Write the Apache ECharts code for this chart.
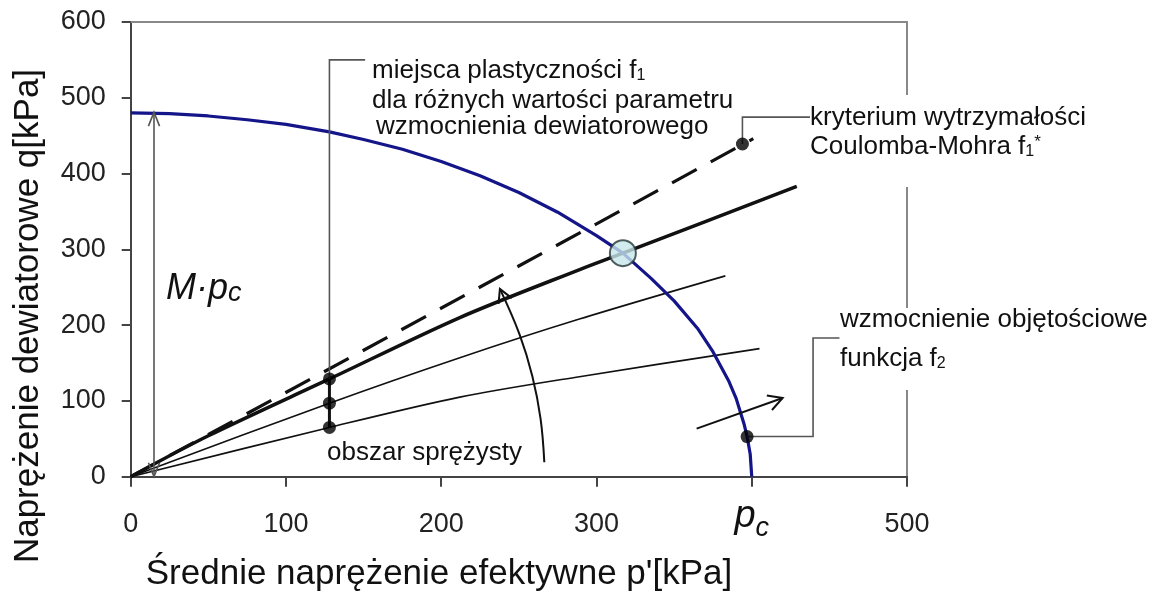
<!DOCTYPE html>
<html><head><meta charset="utf-8">
<script src="https://cdn.jsdelivr.net/npm/echarts@6/dist/echarts.min.js"></script>
<style>html,body{margin:0;padding:0;background:#fff}#c{width:1161px;height:593px}</style>
</head><body><div id="c"></div>
<script>
// ---- data ----
const xTickValues = [0, 100, 200, 300, 400, 500];
const yTickValues = [0, 100, 200, 300, 400, 500, 600];
const pcTick = 400;               // the tick that is labelled p_c

// yield cap (volumetric hardening f2), blue
const capP = [0, 25, 50, 75, 100, 128, 150, 175, 200, 225, 250, 275, 300, 317, 335, 350, 365, 375, 385, 390, 395, 397, 399, 400];
const capQ = [480, 479, 476, 471, 465, 455, 445, 432, 416, 397, 375, 349, 318, 295, 262, 232, 196, 165, 127, 103, 70, 53, 30, 0];

// Coulomb-Mohr criterion f1* (dashed)
const cmP = [0, 401];
const cmQ = [0, 446];

// yield loci f1 (thick = current, thin = earlier)
const f1aP = [0, 50, 128, 212, 290, 317, 429];
const f1aQ = [0, 54, 129, 210, 274, 295, 383];
const f1bP = [0, 128, 212, 289, 383];
const f1bQ = [0, 97, 157, 208, 265];
const f1cP = [0, 128, 212, 289, 405];
const f1cQ = [0, 65, 105, 132, 169];

// marked points
const dotP = [128, 128, 128, 394, 397];
const dotQ = [129, 97, 65, 439, 53];
const crossP = [317];
const crossQ = [295];

// annotation geometry (data units)
const mpcArrowP = [15, 15];
const mpcArrowQ = [0, 481];
const arcP = [266.4, 264.0, 258.7, 250.5, 237.8];
const arcQ = [19.1, 76.3, 132.6, 187.5, 247.8];
const f2ArrowP = [364.5, 419.9];
const f2ArrowQ = [63.5, 103.8];
const leadMiejscaP = [128, 128, 151];
const leadMiejscaQ = [129, 550, 550];
const leadKryP = [394, 394, 437.5];
const leadKryQ = [439, 474.5, 474.5];
const leadWzmP = [397, 439.5, 439.5, 456.5];
const leadWzmQ = [53, 53, 183, 183];

const zip = (a, b) => a.map((v, i) => [v, b[i]]);
const FONT = "'Liberation Sans', Arial, sans-serif";

const chart = echarts.init(document.getElementById('c'), null, {renderer: 'canvas'});

function renderAnno(params, api) {
  const c = p => api.coord(p);
  const children = [];
  const poly = (pts, color, w, smooth) => children.push({
    type: 'polyline', shape: {points: pts.map(c), smooth: smooth || 0},
    style: {stroke: color, lineWidth: w, fill: null}
  });
  const head = (fromPt, tipPt, color, w, L, ang) => {
    const a = c(fromPt), b = c(tipPt);
    const dx = b[0] - a[0], dy = b[1] - a[1];
    const len = Math.hypot(dx, dy), ux = dx / len, uy = dy / len;
    const ca = Math.cos(ang), sa = Math.sin(ang);
    const w1 = [b[0] - L * (ux * ca - uy * sa), b[1] - L * (uy * ca + ux * sa)];
    const w2 = [b[0] - L * (ux * ca + uy * sa), b[1] - L * (uy * ca - ux * sa)];
    children.push({type: 'polyline', shape: {points: [w1, b, w2]}, style: {stroke: color, lineWidth: w, fill: null}});
  };
  // M*pc double arrow
  const m = zip(mpcArrowP, mpcArrowQ);
  poly(m, '#555', 1.6);
  head(m[0], m[1], '#555', 1.6, 15, 0.38);
  head(m[1], m[0], '#555', 1.6, 15, 0.38);
  // hardening arc arrow
  const arc = zip(arcP, arcQ);
  poly(arc, '#111', 2, 0.4);
  head(arc[3], arc[4], '#111', 2, 15, 0.5);
  // f2 arrow
  const fa = zip(f2ArrowP, f2ArrowQ);
  poly(fa, '#111', 2);
  head(fa[0], fa[1], '#111', 2, 16, 0.5);
  // leaders
  poly(zip(leadMiejscaP, leadMiejscaQ), '#555', 1.6);
  poly([[128, 65], [128, 129]], '#111', 3);
  poly(zip(leadKryP, leadKryQ), '#555', 1.6);
  poly(zip(leadWzmP, leadWzmQ), '#555', 1.6);
  return {type: 'group', children};
}

const txt = (x, y, text, size, extra) => ({
  type: 'text', x, y, z: 60,
  style: Object.assign({text, fill: '#111', fontSize: size, fontFamily: FONT,
    verticalAlign: 'middle', align: 'left'}, extra || {})
});

const subRich = {
  a: {fontSize: 26, fontFamily: FONT, color: '#111', lineHeight: 26},
  s: {fontSize: 16, fontFamily: FONT, color: '#111', lineHeight: 14, verticalAlign: 'bottom'},
  u: {fontSize: 17, fontFamily: FONT, color: '#111', lineHeight: 14, verticalAlign: 'top'}
};

const option = {
  backgroundColor: '#fff',
  animation: false,
  grid: {left: 130.7, top: 22, width: 776.3, height: 454.7, containLabel: false},
  xAxis: [{
    type: 'value', min: 0, max: 500, interval: 100,
    axisLine: {show: true, onZero: false, lineStyle: {color: '#444', width: 2}},
    axisTick: {show: true, length: 10, lineStyle: {color: '#444', width: 2}},
    splitLine: {show: false},
    axisLabel: {
      margin: 34, fontSize: 27, color: '#222', fontFamily: FONT,
      formatter: v => (v === pcTick ? '{p|p}{c|c}' : String(v)),
      rich: {
        p: {fontSize: 38, fontStyle: 'italic', fontFamily: FONT, color: '#111', lineHeight: 12},
        c: {fontSize: 27, fontStyle: 'italic', fontFamily: FONT, color: '#111', lineHeight: 12, padding: [24, 0, 0, 0]}
      }
    }
  }, {
    type: 'value', position: 'top', min: 0, max: 500, interval: 100,
    axisLine: {show: true, onZero: false, lineStyle: {color: '#888', width: 2}},
    axisTick: {show: false}, axisLabel: {show: false}, splitLine: {show: false}
  }],
  yAxis: [{
    type: 'value', min: 0, max: 600, interval: 100,
    axisLine: {show: true, onZero: false, lineStyle: {color: '#444', width: 2}},
    axisTick: {show: true, length: 9, lineStyle: {color: '#444', width: 2}},
    splitLine: {show: false},
    axisLabel: {margin: 25, fontSize: 27, color: '#222', fontFamily: FONT}
  }, {
    type: 'value', position: 'right', min: 0, max: 600, interval: 100,
    axisLine: {show: true, onZero: false, lineStyle: {color: '#888', width: 2}},
    axisTick: {show: false}, axisLabel: {show: false}, splitLine: {show: false}
  }],
  series: [
    {type: 'line', name: 'f1 (thin, low)', data: zip(f1cP, f1cQ), smooth: 0.3, symbol: 'none',
      lineStyle: {color: '#111', width: 1.6}, z: 3},
    {type: 'line', name: 'f1 (thin, mid)', data: zip(f1bP, f1bQ), smooth: 0.3, symbol: 'none',
      lineStyle: {color: '#111', width: 1.6}, z: 3},
    {type: 'line', name: 'f1 (thick)', data: zip(f1aP, f1aQ), smooth: 0.3, symbol: 'none',
      lineStyle: {color: '#111', width: 3.5}, z: 4},
    {type: 'line', name: 'Coulomb-Mohr f1*', data: zip(cmP, cmQ), symbol: 'none',
      lineStyle: {color: '#111', width: 3.2, type: [28, 16]}, z: 4},
    {type: 'line', name: 'f2', data: zip(capP, capQ), smooth: false, symbol: 'none',
      lineStyle: {color: '#15158a', width: 3.2, join: 'round'}, z: 5},
    {type: 'custom', name: 'annotations', renderItem: renderAnno, data: [[0, 0]], z: 6, silent: true},
    {type: 'scatter', name: 'points', data: zip(dotP, dotQ), symbolSize: 13,
      itemStyle: {color: '#000'}, z: 7},
    {type: 'scatter', name: 'intersection', data: zip(crossP, crossQ), symbolSize: 26,
      itemStyle: {color: '#c6e6ea', borderColor: '#263636', borderWidth: 2}, z: 8}
  ],
  graphic: [
    // white label boxes (they hide parts of the frame as in the original)
    {type: 'rect', z: 50, shape: {x: 813, y: 95, width: 300, height: 92}, style: {fill: '#fff'}},
    {type: 'rect', z: 50, shape: {x: 843, y: 308, width: 316, height: 82}, style: {fill: '#fff'}},
    // labels
    txt(372, 71, '{a|miejsca plastyczności f}{s|1}', 26, {rich: subRich}),
    txt(372, 101, 'dla różnych wartości parametru', 26),
    txt(376, 127, 'wzmocnienia dewiatorowego', 26),
    txt(810, 118, 'kryterium wytrzymałości', 26),
    txt(810, 147, '{a|Coulomba-Mohra f}{s|1}{u|*}', 26, {rich: subRich}),
    txt(840, 320, 'wzmocnienie objętościowe', 26),
    txt(840, 359, '{a|funkcja f}{s|2}', 26, {rich: subRich}),
    txt(327, 453, 'obszar sprężysty', 26),
    txt(166, 289, '{m|M·p}{s|c}', 36, {rich: {
      m: {fontSize: 36, fontStyle: 'italic', fontFamily: FONT, color: '#111', lineHeight: 36},
      s: {fontSize: 27, fontStyle: 'italic', fontFamily: FONT, color: '#111', lineHeight: 16, verticalAlign: 'bottom'}
    }}),
    // axis titles
    txt(439, 574, "Średnie naprężenie efektywne p'[kPa]", 35, {align: 'center'}),
    Object.assign(txt(28, 316, 'Naprężenie dewiatorowe q[kPa]', 35, {align: 'center'}), {rotation: Math.PI / 2})
  ]
};
chart.setOption(option);
</script>
</body></html>
